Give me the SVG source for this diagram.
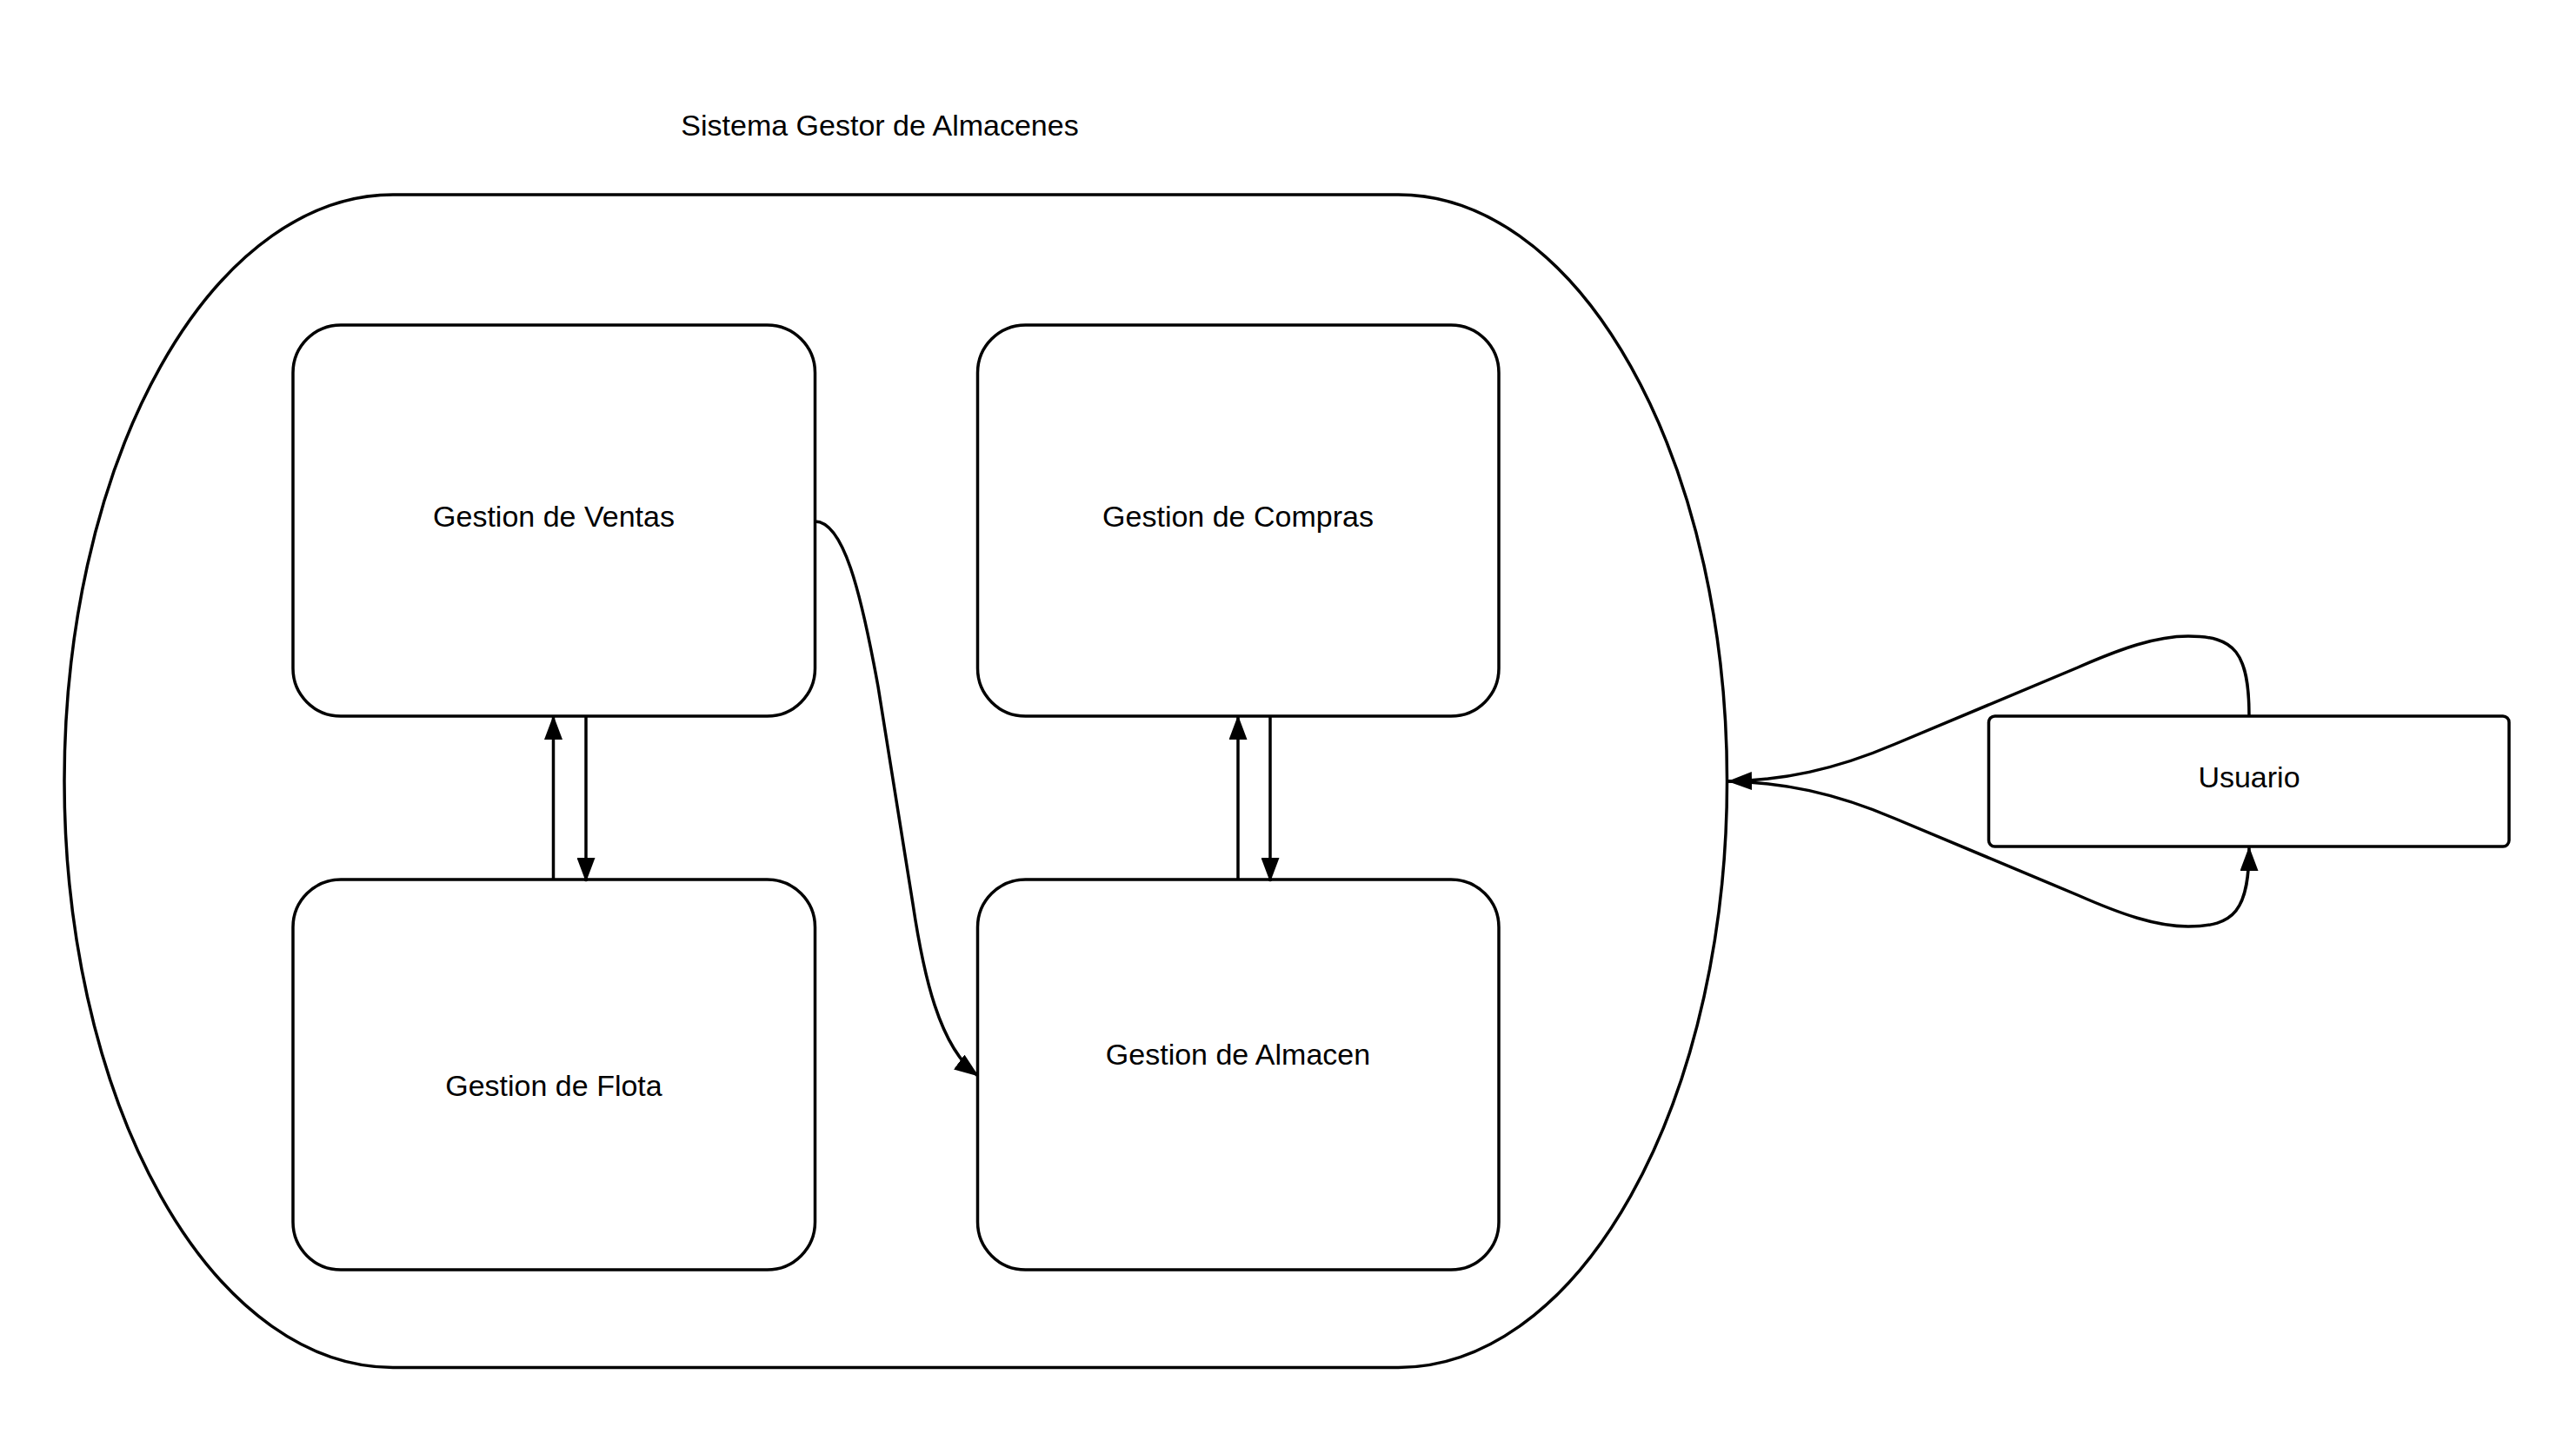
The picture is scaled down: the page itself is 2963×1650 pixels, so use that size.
<svg xmlns="http://www.w3.org/2000/svg" width="2963" height="1650" viewBox="0 0 2963 1650">
  <defs>
    <marker id="arrow" markerUnits="userSpaceOnUse" markerWidth="28" markerHeight="21" viewBox="0 0 28 21" refX="27" refY="10.5" orient="auto">
      <path d="M0,0 L28,10.5 L0,21 Z" fill="#000"/>
    </marker>
    <style>
      .shape { fill: #fff; stroke: #000; stroke-width: 3.5; }
      .label { font-family: "Liberation Sans", Arial, sans-serif; font-size: 34px; fill: #000; text-anchor: middle; }
      .conn { fill: none; stroke: #000; stroke-width: 3.5; marker-end: url(#arrow); }
    </style>
  </defs>
  <rect width="2963" height="1650" fill="#fff"/>

  <g id="sistema">
    <rect class="shape" x="74" y="224" width="1912.5" height="1349.5" rx="378" ry="674.75"/>
    <text class="label" x="1012" y="156">Sistema Gestor de Almacenes</text>
  </g>

  <g id="ventas">
    <rect class="shape" x="337" y="374" width="600.5" height="450" rx="55" ry="55"/>
    <text class="label" x="637" y="606">Gestion de Ventas</text>
  </g>

  <g id="compras">
    <rect class="shape" x="1124.5" y="374" width="599.5" height="450" rx="55" ry="55"/>
    <text class="label" x="1424" y="606">Gestion de Compras</text>
  </g>

  <g id="flota">
    <rect class="shape" x="337" y="1012" width="600.5" height="449" rx="55" ry="55"/>
    <text class="label" x="637" y="1261">Gestion de Flota</text>
  </g>

  <g id="almacen">
    <rect class="shape" x="1124.5" y="1012" width="599.5" height="449" rx="55" ry="55"/>
    <text class="label" x="1424" y="1225">Gestion de Almacen</text>
  </g>

  <g id="usuario">
    <rect class="shape" x="2287.5" y="824" width="598.5" height="150" rx="7" ry="7"/>
    <text class="label" x="2587" y="906">Usuario</text>
  </g>

  <g id="connectors">
    <path class="conn" d="M636.5,1012 L636.5,824"/>
    <path class="conn" d="M674,824 L674,1014"/>
    <path class="conn" d="M1424,1012 L1424,824"/>
    <path class="conn" d="M1461,824 L1461,1014"/>
    <path class="conn" d="M937.5,600 C970,600 990,680 1010,790 L1050,1040 C1062,1120 1080,1205 1125,1238"/>
    <path class="conn" d="M2587,824 C2587,750 2570,732 2517,732 C2480,732 2440,746 2390,768 L2180,856 C2110,886 2050,898 1988,899"/>
    <path class="conn" d="M1988,899 C2050,900 2110,912 2180,942 L2390,1030 C2440,1052 2480,1066 2517,1066 C2570,1066 2587,1048 2587,975"/>
  </g>
</svg>
